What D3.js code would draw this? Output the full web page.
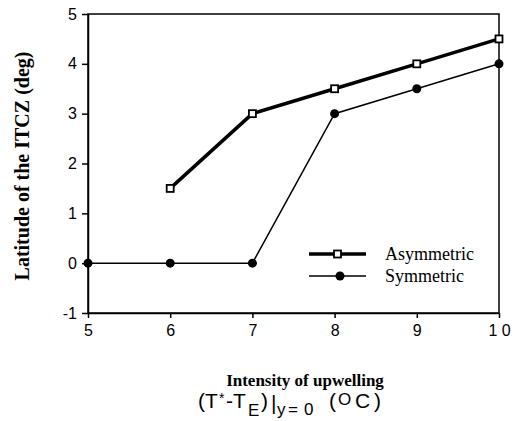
<!DOCTYPE html>
<html>
<head>
<meta charset="utf-8">
<script src="https://d3js.org/d3.v7.min.js"></script>
<style>
  body { margin: 0; background: #fff; }
  .tick text { font-family: "Liberation Sans", Arial, sans-serif; font-size: 16px; fill: #000; }
</style>
</head>
<body>
<svg width="516" height="421"></svg>
<script>
var xTicks = [5, 6, 7, 8, 9, 10];
var yTicks = [-1, 0, 1, 2, 3, 4, 5];
var asymX = [6, 7, 8, 9, 10];
var asymY = [1.5, 3, 3.5, 4, 4.5];
var symX = [5, 6, 7, 8, 9, 10];
var symY = [0, 0, 0, 3, 3.5, 4];

var svg = d3.select("svg");
// note: "top" is reserved on window, so use plotTop etc.
var plotLeft = 88, plotRight = 499, plotTop = 14, plotBottom = 313;

var x = d3.scaleLinear().domain([5, 10]).range([plotLeft, plotRight]);
var y = d3.scaleLinear().domain([-1, 5]).range([plotBottom, plotTop]);

// frame
svg.append("rect")
    .attr("x", plotLeft).attr("y", plotTop)
    .attr("width", plotRight - plotLeft).attr("height", plotBottom - plotTop)
    .attr("fill", "none").attr("stroke", "#000").attr("stroke-width", 1.5);

var xAxis = svg.append("g")
    .attr("transform", "translate(0," + plotBottom + ")")
    .call(d3.axisBottom(x).tickValues(xTicks).tickSize(5).tickSizeOuter(0)
        .tickFormat(function (d) { return d == 10 ? "1 0" : String(d); }));
xAxis.selectAll("text").attr("y", 12).attr("dy", "0.71em");

var yAxis = svg.append("g")
    .attr("transform", "translate(" + plotLeft + ",0)")
    .call(d3.axisLeft(y).tickValues(yTicks).tickSize(6).tickSizeOuter(0)
        .tickFormat(function (d) { return String(d); }));
yAxis.selectAll("text").attr("x", -11);

svg.selectAll(".domain").attr("stroke-width", 1.5);
svg.selectAll(".tick line").attr("stroke-width", 1.5);

var line = d3.line().x(function (d) { return x(d[0]); }).y(function (d) { return y(d[1]); });

var asym = d3.zip(asymX, asymY);
var sym = d3.zip(symX, symY);

svg.append("path").datum(sym).attr("d", line)
    .attr("fill", "none").attr("stroke", "#000").attr("stroke-width", 1.5);
svg.selectAll(".sym").data(sym).enter().append("circle")
    .attr("cx", function (d) { return x(d[0]); })
    .attr("cy", function (d) { return y(d[1]); })
    .attr("r", 4.5).attr("fill", "#000");

svg.append("path").datum(asym).attr("d", line)
    .attr("fill", "none").attr("stroke", "#000").attr("stroke-width", 3.5);
svg.selectAll(".asym").data(asym).enter().append("rect")
    .attr("x", function (d) { return x(d[0]) - 3.5; })
    .attr("y", function (d) { return y(d[1]) - 3.5; })
    .attr("width", 7).attr("height", 7)
    .attr("fill", "#fff").attr("stroke", "#000").attr("stroke-width", 1.8);

// legend
var lg = svg.append("g");
lg.append("line").attr("x1", 309).attr("x2", 366).attr("y1", 254).attr("y2", 254)
    .attr("stroke", "#000").attr("stroke-width", 3.5);
lg.append("rect").attr("x", 337.5 - 3.5).attr("y", 254 - 3.5).attr("width", 7).attr("height", 7)
    .attr("fill", "#fff").attr("stroke", "#000").attr("stroke-width", 1.8);
lg.append("line").attr("x1", 309).attr("x2", 366).attr("y1", 276).attr("y2", 276)
    .attr("stroke", "#000").attr("stroke-width", 1.5);
lg.append("circle").attr("cx", 340).attr("cy", 276).attr("r", 4.5).attr("fill", "#000");
lg.append("text").attr("x", 385).attr("y", 260).text("Asymmetric")
    .attr("font-family", "Liberation Serif, Times New Roman, serif").attr("font-size", 18);
lg.append("text").attr("x", 385).attr("y", 282).text("Symmetric")
    .attr("font-family", "Liberation Serif, Times New Roman, serif").attr("font-size", 18);

// axis titles
svg.append("text")
    .attr("transform", "translate(29,166) rotate(-90)")
    .attr("text-anchor", "middle")
    .attr("font-family", "Liberation Serif, Times New Roman, serif")
    .attr("font-weight", "bold").attr("font-size", 20)
    .text("Latitude of the ITCZ (deg)");

svg.append("text")
    .attr("x", 305).attr("y", 386).attr("text-anchor", "middle")
    .attr("font-family", "Liberation Serif, Times New Roman, serif")
    .attr("font-weight", "bold").attr("font-size", 17)
    .text("Intensity of upwelling");

// (T*-T_E)|_{y=0}  (°C), glyphs placed one by one as in the original
var sub = svg.append("text")
    .attr("font-family", "Liberation Sans, Arial, sans-serif").attr("font-size", 21);
var parts = [
    { t: "(", x: 198, y: 408, fs: 21 },
    { t: "T", x: 205, y: 408, fs: 21 },
    { t: "*", x: 219, y: 403, fs: 14 },
    { t: "-", x: 226, y: 408, fs: 21 },
    { t: "T", x: 233, y: 408, fs: 21 },
    { t: "E", x: 248, y: 416, fs: 17 },
    { t: ")", x: 261, y: 408, fs: 21 },
    { t: "|", x: 271, y: 410, fs: 21 },
    { t: "y", x: 277, y: 415, fs: 17 },
    { t: "=", x: 288, y: 415, fs: 17 },
    { t: "0", x: 304, y: 415, fs: 17 },
    { t: "(", x: 329, y: 408, fs: 21 },
    { t: "O", x: 338, y: 405, fs: 17 },
    { t: "C", x: 355, y: 408, fs: 21 },
    { t: ")", x: 374, y: 408, fs: 21 }
];
parts.forEach(function (p) {
    sub.append("tspan").attr("x", p.x).attr("y", p.y).attr("font-size", p.fs).text(p.t);
});
</script>
</body>
</html>
